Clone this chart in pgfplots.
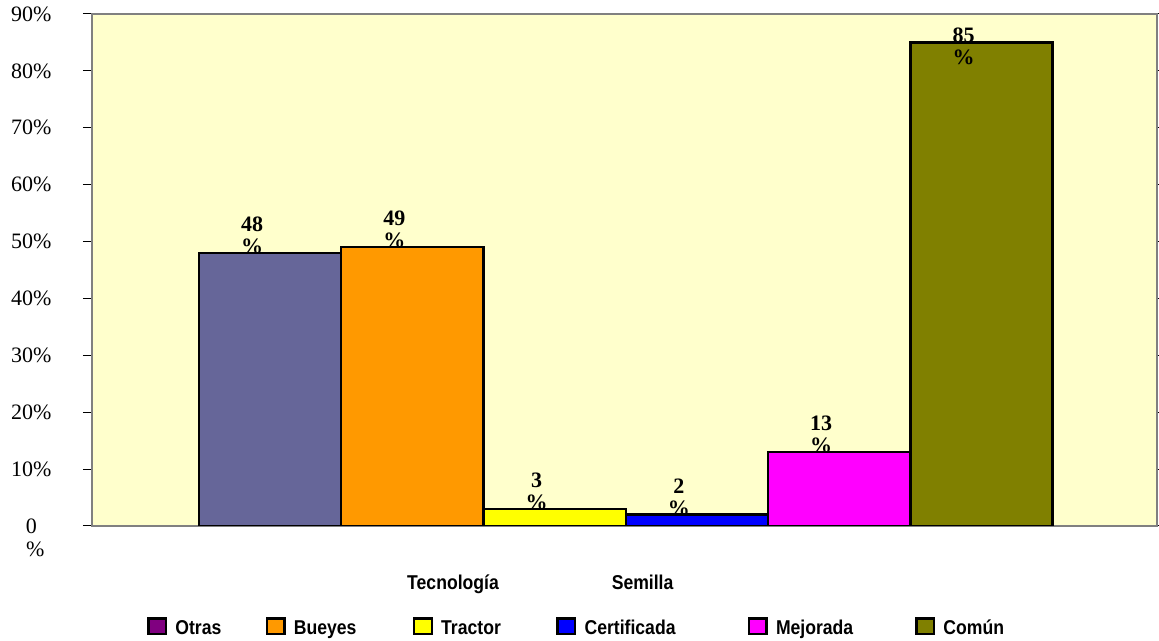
\documentclass[border=0pt]{standalone}
\usepackage{fontspec}
\setmainfont{Liberation Serif}
\newfontfamily\sanslab[FakeStretch=0.88]{Liberation Sans}
\usepackage{pgfplots}
\pgfplotsset{compat=1.18}
\usetikzlibrary{calc}

\definecolor{bgyellow}{HTML}{FFFFCC}
\definecolor{cotras}{HTML}{800080}
\definecolor{cslate}{HTML}{666699}
\definecolor{cbueyes}{HTML}{FF9900}
\definecolor{ctractor}{HTML}{FFFF00}
\definecolor{ccert}{HTML}{0000FF}
\definecolor{cmejor}{HTML}{FF00FF}
\definecolor{ccomun}{HTML}{808000}
\definecolor{axgray}{HTML}{808080}

% square legend swatch with thick black border
\newcommand\swatch[1]{\addlegendimage{legend image code/.code={%
  \draw[fill=#1,draw=black,line width=2.5pt] (1.25pt,0.25pt) rectangle (18.75pt,15.75pt);
  \path (0pt,-1pt) (26pt,17pt);}}}

\begin{document}
\begin{tikzpicture}
\begin{axis}[
  name=ax,
  scale only axis,
  width=1065pt, height=512pt,
  xmin=-0.251, xmax=7.233,
  ymin=0, ymax=90,
  axis background/.style={fill=bgyellow},
  axis line style={draw=axgray, line width=1.5pt},
  tick align=outside,
  major tick length=9pt,
  ytick={0,10,...,90},
  yticklabels={
    {\makebox[44pt]{\makebox[0pt]{0}\makebox[0pt]{\hspace{8pt}\raisebox{-23pt}[0pt][0pt]{\%}}}},
    {\makebox[44pt]{10\%}},{\makebox[44pt]{20\%}},{\makebox[44pt]{30\%}},
    {\makebox[44pt]{40\%}},{\makebox[44pt]{50\%}},{\makebox[44pt]{60\%}},
    {\makebox[44pt]{70\%}},{\makebox[44pt]{80\%}},{\makebox[44pt]{90\%}}},
  yticklabel style={anchor=east, inner sep=0pt, xshift=-29.5pt,
    font=\fontsize{22}{22}\selectfont},
  ytick style={draw=black, line width=1pt},
  xtick={2.286,3.618},
  xticklabels={Tecnología,Semilla},
  xtick style={draw=none},
  xticklabel style={anchor=base, inner sep=0pt, yshift=-55pt,
    font=\sanslab\bfseries\fontsize{20}{20}\selectfont},
  legend columns=6,
  legend style={at={(axis description cs:0,0)}, anchor=north west,
    xshift=55pt, yshift=-91pt, draw=none, fill=none,
    inner sep=0pt, outer sep=0pt, column sep=0pt, row sep=0pt,
    cells={anchor=base west, inner sep=0pt},
    font=\sanslab\bfseries\fontsize{20}{20}\selectfont},
  every node near coord/.append style={
    font=\bfseries\fontsize{22}{22}\selectfont, align=center,
    anchor=south, inner sep=0pt, xshift=-18pt, yshift=-2pt},
  nodes near coords={\pgfmathprintnumber[assume math mode=true]{\pgfplotspointmeta}\\\%},
  barstyle/.style={ybar, bar width=1, draw=black, line width=2.5pt, forget plot},
]
\addplot[barstyle, fill=cslate] coordinates {(1,48)};
\addplot[barstyle, fill=cbueyes] coordinates {(2,49)};
\addplot[barstyle, fill=ctractor] coordinates {(3,3)};
\addplot[barstyle, fill=ccert] coordinates {(4,2)};
\addplot[barstyle, fill=cmejor] coordinates {(5,13)};
\addplot[barstyle, fill=ccomun,
  every node near coord/.append style={yshift=-22pt}] coordinates {(6,85)};

\swatch{cotras}\addlegendentry{\makebox[88pt][l]{Otras}}
\swatch{cbueyes}\addlegendentry{\makebox[117pt][l]{Bueyes}}
\swatch{ctractor}\addlegendentry{\makebox[113pt][l]{Tractor}}
\swatch{ccert}\addlegendentry{\makebox[161pt][l]{Certificada}}
\swatch{cmejor}\addlegendentry{\makebox[137pt][l]{Mejorada}}
\swatch{ccomun}\addlegendentry{\makebox[60pt][l]{Común}}
\end{axis}
\pgfresetboundingbox
\path[use as bounding box] ($(ax.south west)+(-92pt,-115pt)$) rectangle ($(ax.north east)+(2pt,14pt)$);
\end{tikzpicture}
\end{document}
